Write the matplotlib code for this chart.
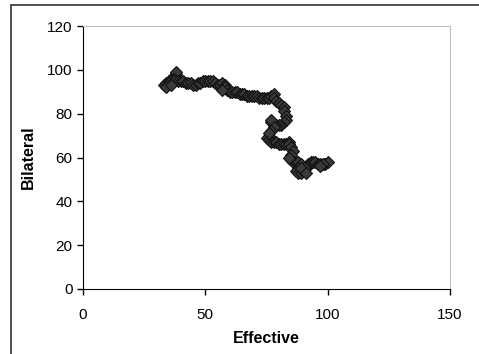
import matplotlib.pyplot as plt
from matplotlib.patches import Rectangle

# path of the scatter points
effective = [33, 34, 35, 36, 37, 38, 38, 37, 36, 35,
             34, 37, 39, 40, 41, 42, 43, 44, 45, 46,
             47, 48, 49, 50, 51, 52, 53, 54, 55, 56,
             57, 58, 58, 59, 60, 61, 62, 63, 64, 65,
             66, 67, 68, 69, 70, 71, 72, 73, 74, 75,
             76, 77, 78, 78, 79, 80, 81, 82, 82, 83,
             83, 82, 81, 80, 79, 78, 77, 77, 78, 77,
             76, 75, 76, 77, 78, 79, 80, 81, 82, 83,
             84, 84, 85, 86, 85, 85, 86, 87, 88, 89,
             88, 87, 88, 89, 90, 91, 92, 92, 93, 94,
             95, 96, 97, 98, 99, 100, 98, 97, 36, 57,
             76, 84, 89, 91]
bilateral = [93, 94, 95, 96, 97, 98, 99, 96, 95, 94,
             92, 95, 95, 95, 95, 94, 94, 94, 93, 93,
             94, 94, 95, 95, 95, 95, 95, 94, 93, 93,
             94, 93, 92, 91, 90, 90, 90, 90, 89, 89,
             89, 88, 88, 88, 88, 88, 87, 87, 87, 87,
             87, 88, 89, 87, 86, 85, 84, 83, 81, 79,
             77, 76, 75, 75, 75, 75, 76, 77, 74, 72,
             70, 69, 68, 67, 67, 67, 66, 66, 66, 66,
             67, 66, 65, 63, 61, 59, 58, 58, 58, 57,
             55, 54, 53, 53, 54, 55, 56, 57, 58, 58,
             58, 57, 57, 57, 57, 58, 57, 56, 93, 91,
             71, 60, 55, 53]

xticks = [0, 50, 100, 150]
yticks = [0, 20, 40, 60, 80, 100, 120]

plt.rcParams['font.family'] = ['Liberation Sans', 'DejaVu Sans']

fig = plt.figure(figsize=(4.79, 3.54), dpi=100)
ax = fig.add_axes([83/479, 65/354, 367/479, 263/354])

ax.plot(effective, bilateral, linestyle='none', marker='D', markersize=6.5,
        markerfacecolor='#3a3a3a', markeredgecolor='#111111', markeredgewidth=0.8)

ax.set_xlim(0, 150)
ax.set_ylim(0, 120)
ax.set_xticks(xticks)
ax.set_yticks(yticks)
ax.tick_params(direction='out', length=4, width=1, labelsize=11, colors='black')
ax.tick_params(axis='x', pad=10)
ax.spines['top'].set_color('#bfbfbf')
ax.spines['right'].set_color('#bfbfbf')
ax.spines['left'].set_color('black')
ax.spines['bottom'].set_color('black')

ax.set_xlabel('Effective', fontsize=11.5, fontweight='bold', labelpad=6)
ax.set_ylabel('Bilateral', fontsize=11.5, fontweight='bold', labelpad=8)

# outer chart frame
fig.patches.append(Rectangle((11/479, -0.1), 1.2, 1 - 5/354 + 0.1,
                             transform=fig.transFigure, fill=False,
                             edgecolor='#333333', linewidth=1.2))

fig.savefig('out.png', dpi=100)
